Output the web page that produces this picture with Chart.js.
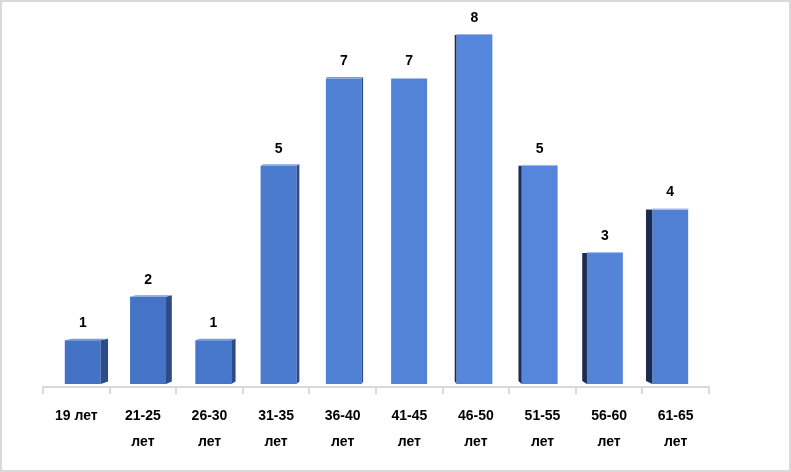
<!DOCTYPE html>
<html>
<head>
<meta charset="utf-8">
<script src="https://cdn.jsdelivr.net/npm/chart.js@4/dist/chart.umd.min.js"></script>
<style>
html,body{margin:0;padding:0;background:#fff;}
#wrap{position:relative;width:791px;height:472px;}
#frame{position:absolute;left:0;top:0;width:791px;height:472px;box-sizing:border-box;border:2px solid #d9d9d9;pointer-events:none;}
</style>
</head>
<body>
<div id="wrap">
<canvas id="c" width="791" height="472"></canvas>
<div id="frame"></div>
</div>
<script>
const categories = [['19 лет'], ['21-25', 'лет'], ['26-30', 'лет'], ['31-35', 'лет'], ['36-40', 'лет'], ['41-45', 'лет'], ['46-50', 'лет'], ['51-55', 'лет'], ['56-60', 'лет'], ['61-65', 'лет']];
const counts = [1, 2, 1, 5, 7, 7, 8, 5, 3, 4];
const frontColors = ['#4472c4', '#4574c7', '#4777ca', '#4a7bcf', '#4e80d4', '#5183d7', '#5587dc', '#5586db', '#5384d8', '#4f80d4'];

const FONT = "'Liberation Sans', Arial, sans-serif";
const VX = 400;

const perspective = {
  id: 'perspective',
  afterDatasetsUpdate(chart) {
    chart.getDatasetMeta(0).data.forEach(el => {
      el.x = el.x + (VX - el.x) * 0.02;
    });
  }
};

const bar3d = {
  id: 'bar3d',
  afterDatasetsDraw(chart) {
    const ctx = chart.ctx;
    const meta = chart.getDatasetMeta(0);
    ctx.save();
    meta.data.forEach((el, i) => {
      const p = el.getProps(['x', 'y', 'base', 'width'], true);
      const l = p.x - p.width / 2, r = p.x + p.width / 2;
      const s = Math.min(8, Math.abs(VX - p.x) * 0.023);
      if (s < 0.8) return;
      if (p.x < VX) {
        ctx.fillStyle = '#2d4b88';
        ctx.beginPath();
        ctx.moveTo(r, p.y); ctx.lineTo(r + s, p.y - 1.5);
        ctx.lineTo(r + s, p.base - 2.5); ctx.lineTo(r, p.base);
        ctx.closePath(); ctx.fill();
        ctx.fillStyle = '#7b9bd6';
        ctx.beginPath();
        ctx.moveTo(l, p.y); ctx.lineTo(l + s, p.y - 1.5);
        ctx.lineTo(r + s, p.y - 1.5); ctx.lineTo(r, p.y);
        ctx.closePath(); ctx.fill();
      } else {
        ctx.fillStyle = '#1c2c50';
        ctx.beginPath();
        ctx.moveTo(l, p.y); ctx.lineTo(l - s, p.y);
        ctx.lineTo(l - s, p.base - 3); ctx.lineTo(l, p.base);
        ctx.closePath(); ctx.fill();
        ctx.fillStyle = '#9db6e6';
        ctx.fillRect(l, p.y - 1, p.width, 1);
      }
    });
    ctx.fillStyle = '#000';
    ctx.font = 'bold 14px ' + FONT;
    ctx.textAlign = 'center';
    ctx.textBaseline = 'middle';
    meta.data.forEach((el, i) => {
      const p = el.getProps(['x', 'y'], true);
      ctx.fillText(String(counts[i]), p.x, p.y - 17);
    });
    ctx.restore();
  }
};

new Chart(document.getElementById('c'), {
  type: 'bar',
  data: {
    labels: categories,
    datasets: [{
      data: counts,
      backgroundColor: frontColors,
      borderWidth: 0,
      barPercentage: 0.54,
      categoryPercentage: 1
    }]
  },
  options: {
    responsive: false,
    animation: false,
    events: [],
    layout: { padding: { left: 43, right: 82, top: 35, bottom: 0 } },
    plugins: { legend: { display: false }, tooltip: { enabled: false } },
    scales: {
      x: {
        afterFit(s) { s.height = 472 - 387; },
        grid: { display: true, offset: true, drawOnChartArea: false, tickLength: 7, color: '#d9d9d9', lineWidth: 2 },
        border: { display: true, color: '#d9d9d9', width: 2 },
        ticks: {
          color: '#000',
          font: { family: FONT, size: 14, weight: 'bold', lineHeight: 1.8 },
          padding: 10,
          maxRotation: 0,
          autoSkip: false
        }
      },
      y: {
        display: false,
        min: -0.069,
        max: 8
      }
    }
  },
  plugins: [perspective, bar3d]
});
</script>
</body>
</html>
